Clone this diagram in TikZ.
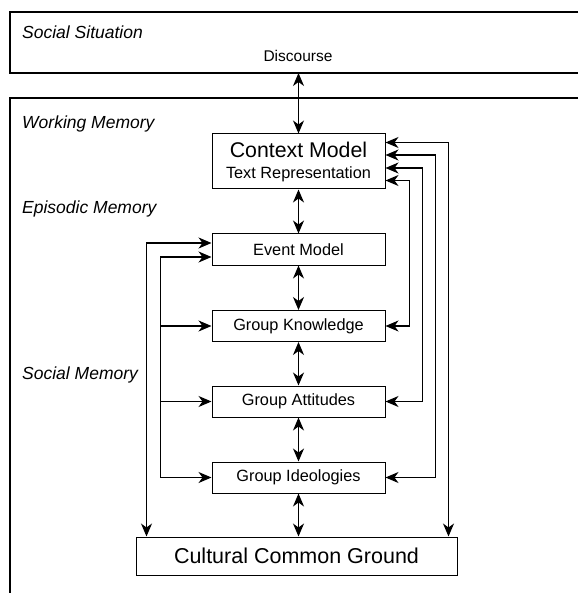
\documentclass[tikz,border=0pt]{standalone}
\usepackage{fontspec}
\setmainfont{Liberation Sans}
\usetikzlibrary{arrows.meta}

\begin{document}
\begin{tikzpicture}[x=1pt, y=-1pt,
    box/.style={draw, line width=1pt, minimum width=173pt, minimum height=31pt, inner sep=0pt, font=\fontsize{16.3}{21}\selectfont},
    region/.style={anchor=west, inner sep=0pt, font=\fontsize{17.5}{19}\selectfont\itshape},
    link/.style={line width=1.1pt, {Stealth[length=13pt, width=11pt, inset=4pt]}-{Stealth[length=13pt, width=11pt, inset=4pt]}},
    feed/.style={line width=1.1pt, -{Stealth[length=13pt, width=11pt, inset=4pt]}}]
    \useasboundingbox (0, 0) rectangle (578, 593);
    \draw[line width=1.1pt] (578, 12) -- (10, 12) -- (10, 73) -- (578, 73);
    \draw[line width=1.1pt] (578, 98) -- (10, 98) -- (10, 593);

    \node[region] (sit) at (22, 32) {Social Situation};
    \node[region] (work) at (22, 124) {Working Memory};
    \node[region] (epi) at (22, 209) {Episodic Memory};
    \node[region] (soc) at (22, 375) {Social Memory};
    \node[inner sep=0pt, font=\fontsize{15.5}{17}\selectfont] (disc) at (298, 56) {Discourse};
    \coordinate (sitb) at (298.5, 73);
    \coordinate (inl) at (160.5, 0);

    \node[box, minimum height=55pt, align=center] (ctx) at (298.5, 161.5) {{\fontsize{21.3}{21}\selectfont Context Model}\\Text Representation};
    \node[box] (em) at (298.5, 249.5) {Event Model};
    \node[box] (gk) at (298.5, 326) {Group Knowledge};
    \node[box] (ga) at (298.5, 401.5) {Group Attitudes};
    \node[box] (gi) at (298.5, 477.5) {Group Ideologies};
    \node[box, minimum width=321pt, minimum height=38pt, font=\fontsize{21.5}{24}\selectfont] (ccg) at (296.5, 556) {Cultural Common Ground};

    \draw[link] (sitb) -- (ctx);
    \draw[link] (ctx) -- (em);
    \draw[link] (em) -- (gk);
    \draw[link] (gk) -- (ga);
    \draw[link] (ga) -- (gi);
    \draw[link] (gi) -- (gi |- ccg.north);

    \draw[link] ([yshift=6.5pt]em.west) -| ([xshift=11pt]ccg.north west);
    \draw[link] ([yshift=-7.5pt]em.west) -| (inl |- gi.west) -- (gi.west);
    \draw[feed] (inl |- gk.west) -- (gk.west);
    \draw[feed] (inl |- ga.west) -- (ga.west);

    \draw[link] ([yshift=19pt]ctx.east) -| ([xshift=-9pt]ccg.north east);
    \draw[link] ([yshift=6.5pt]ctx.east) -- ++(50, 0) |- (gi.east);
    \draw[link] ([yshift=-6.5pt]ctx.east) -- ++(37, 0) |- (ga.east);
    \draw[link] ([yshift=-19pt]ctx.east) -- ++(24, 0) |- (gk.east);
\end{tikzpicture}
\end{document}
